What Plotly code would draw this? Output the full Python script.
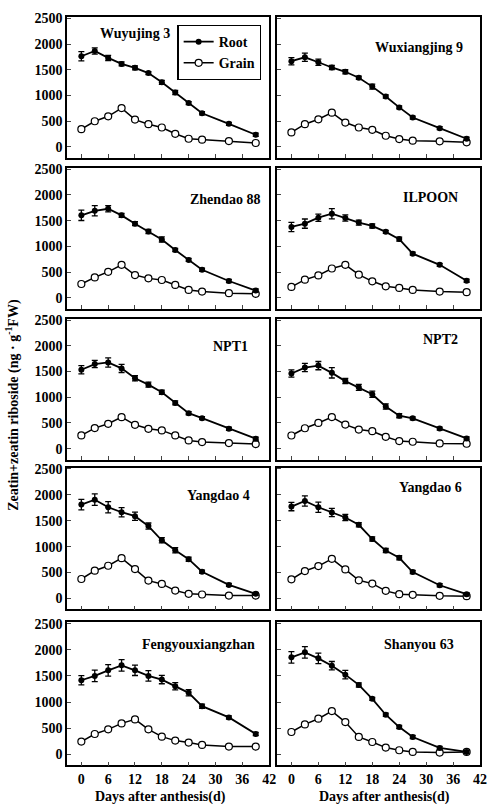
import plotly.graph_objects as go

days = [0, 3, 6, 9, 12, 15, 18, 21, 24, 27, 33, 39]

cultivars = ["Wuyujing 3", "Wuxiangjing 9", "Zhendao 88", "ILPOON", "NPT1",
             "NPT2", "Yangdao 4", "Yangdao 6", "Fengyouxiangzhan", "Shanyou 63"]

root_wuyujing3 = [1763, 1865, 1731, 1615, 1538, 1436, 1256, 1058, 853, 654, 449, 237]
grain_wuyujing3 = [346, 500, 596, 756, 532, 442, 378, 256, 160, 141, 115, 77]
root_wuxiangjing9 = [1667, 1743, 1647, 1545, 1461, 1346, 1173, 981, 769, 571, 365, 160]
grain_wuxiangjing9 = [282, 442, 538, 667, 474, 378, 333, 218, 154, 122, 109, 90]
root_zhendao88 = [1603, 1692, 1731, 1603, 1442, 1288, 1135, 929, 737, 545, 327, 141]
grain_zhendao88 = [269, 397, 506, 641, 442, 378, 346, 250, 154, 122, 90, 77]
root_ilpoon = [1378, 1442, 1558, 1635, 1551, 1462, 1397, 1282, 1141, 859, 641, 333]
grain_ilpoon = [212, 353, 436, 570, 641, 449, 321, 224, 192, 154, 122, 109]
root_npt1 = [1535, 1645, 1677, 1561, 1368, 1245, 1097, 890, 690, 594, 387, 194]
grain_npt1 = [258, 400, 484, 613, 464, 387, 355, 258, 161, 129, 110, 90]
root_npt2 = [1462, 1577, 1615, 1474, 1314, 1192, 1058, 820, 641, 590, 391, 199]
grain_npt2 = [256, 397, 500, 615, 468, 372, 340, 231, 147, 135, 103, 96]
root_yangdao4 = [1812, 1908, 1761, 1665, 1589, 1397, 1123, 931, 759, 517, 262, 89]
grain_yangdao4 = [376, 536, 632, 778, 568, 345, 281, 153, 89, 77, 57, 57]
root_yangdao6 = [1774, 1882, 1761, 1659, 1563, 1423, 1148, 925, 785, 510, 255, 83]
grain_yangdao6 = [370, 530, 625, 766, 561, 351, 287, 147, 83, 70, 51, 45]
root_feng = [1418, 1501, 1609, 1704, 1609, 1501, 1431, 1304, 1177, 922, 706, 388]
grain_feng = [242, 388, 477, 591, 668, 477, 337, 261, 223, 178, 146, 146]
root_shanyou63 = [1857, 1953, 1838, 1698, 1526, 1329, 1062, 757, 521, 331, 121, 45]
grain_shanyou63 = [426, 572, 681, 827, 617, 331, 235, 127, 76, 45, 32, 45]

err_wuyujing3 = [90, 60, 50, 40, 40, 30, 40, 40, 30, 30, 30, 30]
err_wuxiangjing9 = [70, 80, 60, 40, 40, 30, 50, 30, 30, 30, 30, 30]
err_zhendao88 = [100, 100, 60, 40, 40, 40, 50, 30, 30, 30, 30, 30]
err_ilpoon = [90, 90, 70, 100, 60, 50, 40, 30, 40, 30, 30, 30]
err_npt1 = [80, 70, 90, 80, 50, 50, 40, 40, 30, 30, 30, 30]
err_npt2 = [70, 80, 80, 100, 50, 60, 60, 50, 40, 30, 30, 30]
err_yangdao4 = [100, 110, 110, 90, 80, 60, 50, 50, 40, 30, 30, 30]
err_yangdao6 = [80, 100, 100, 80, 60, 40, 40, 40, 40, 30, 30, 30]
err_feng = [90, 110, 110, 110, 100, 100, 80, 70, 60, 40, 30, 30]
err_shanyou63 = [110, 110, 100, 80, 80, 40, 30, 30, 30, 30, 30, 30]
grain_err = [20] * 12

roots = [root_wuyujing3, root_wuxiangjing9, root_zhendao88, root_ilpoon, root_npt1,
         root_npt2, root_yangdao4, root_yangdao6, root_feng, root_shanyou63]
grains = [grain_wuyujing3, grain_wuxiangjing9, grain_zhendao88, grain_ilpoon, grain_npt1,
          grain_npt2, grain_yangdao4, grain_yangdao6, grain_feng, grain_shanyou63]
root_errs = [err_wuyujing3, err_wuxiangjing9, err_zhendao88, err_ilpoon, err_npt1,
             err_npt2, err_yangdao4, err_yangdao6, err_feng, err_shanyou63]

y_ticks = [0, 500, 1000, 1500, 2000, 2500]
x_ticks = [0, 6, 12, 18, 24, 30, 36, 42]

W, H = 495, 804
FONT = "Liberation Serif"


def fx(p):
    return p / W


def fy(p):
    return 1 - p / H


cols = [(68, 273), (281, 487)]
rows = [(11, 153), (163, 305), (315, 457), (465, 608), (621, 765)]

# title positions (pixel centre)
title_pos = [(137, 28), (425, 42), (228, 195), (437, 193), (234, 343),
             (447, 336), (222, 493), (437, 485), (201, 643), (425, 643)]

fig = go.Figure()
layout = {}
annotations = []

for i, name in enumerate(cultivars):
    r, c = divmod(i, 2)
    idx = i + 1
    xa = "x" if idx == 1 else f"x{idx}"
    ya = "y" if idx == 1 else f"y{idx}"
    xkey = "xaxis" if idx == 1 else f"xaxis{idx}"
    ykey = "yaxis" if idx == 1 else f"yaxis{idx}"

    fig.add_trace(go.Scatter(
        x=days, y=grains[i], xaxis=xa, yaxis=ya, mode="lines+markers",
        name="Grain", showlegend=False,
        line=dict(color="black", width=1.5),
        marker=dict(symbol="circle", size=7, color="white",
                    line=dict(color="black", width=1.2)),
        error_y=dict(type="data", array=grain_err, color="black", thickness=1, width=2),
    ))
    fig.add_trace(go.Scatter(
        x=days, y=roots[i], xaxis=xa, yaxis=ya, mode="lines+markers",
        name="Root", showlegend=(i == 0),
        line=dict(color="black", width=1.8),
        marker=dict(symbol="circle", size=6, color="black"),
        error_y=dict(type="data", array=root_errs[i], color="black", thickness=1.3, width=3),
    ))
    if i == 0:
        fig.add_trace(go.Scatter(
            x=[0], y=[-1000], xaxis=xa, yaxis=ya, mode="lines+markers",
            name="Grain", showlegend=True, hoverinfo="skip",
            line=dict(color="black", width=1.5),
            marker=dict(symbol="circle", size=7, color="white",
                        line=dict(color="black", width=1.2)),
        ))

    x0, x1 = cols[c]
    t, b = rows[r]
    layout[xkey] = dict(
        domain=[fx(x0), fx(x1)], anchor=ya, range=[-3.2, 42],
        tickvals=x_ticks, ticks="inside", ticklen=4, tickwidth=1.3,
        showticklabels=(r == 4), showline=True, linecolor="black", linewidth=1.5,
        mirror=True, showgrid=False, zeroline=False,
        tickfont=dict(family=FONT, size=14, color="black", weight="bold"),
    )
    layout[ykey] = dict(
        domain=[fy(b), fy(t)], anchor=xa, range=[-212, 2528],
        tickvals=y_ticks, ticks="inside", ticklen=4, tickwidth=1.3,
        showticklabels=(c == 0), showline=True, linecolor="black", linewidth=1.5,
        mirror=True, showgrid=False, zeroline=False,
        tickfont=dict(family=FONT, size=14, color="black", weight="bold"),
    )
    tx, ty = title_pos[i]
    annotations.append(dict(
        text=name, x=fx(tx), y=fy(ty), xref="paper", yref="paper",
        xanchor="center", yanchor="middle", showarrow=False,
        font=dict(family=FONT, size=14, color="black", weight="bold"),
    ))

annotations.append(dict(
    text="Zeatin+zeatin riboside (ng · g<sup>-1</sup>FW)", x=fx(12), y=fy(402),
    xref="paper", yref="paper", textangle=-90, showarrow=False,
    xanchor="center", yanchor="middle",
    font=dict(family=FONT, size=14, color="black", weight="bold"),
))
for cx in (163, 390):
    annotations.append(dict(
        text="Days after anthesis(d)", x=fx(cx), y=fy(797),
        xref="paper", yref="paper", showarrow=False,
        xanchor="center", yanchor="middle",
        font=dict(family=FONT, size=14, color="black", weight="bold"),
    ))

fig.update_layout(
    width=W, height=H, margin=dict(l=0, r=0, t=0, b=0),
    paper_bgcolor="white", plot_bgcolor="white",
    font=dict(family=FONT, size=14, color="black"),
    annotations=annotations,
    legend=dict(x=fx(180), y=fy(19), xanchor="left", yanchor="top",
                bordercolor="black", borderwidth=1.2, bgcolor="white",
                font=dict(family=FONT, size=14, color="black", weight="bold"),
                tracegroupgap=0, itemwidth=30),
    **layout,
)

fig.write_html(
    "out.html",
    config={"displayModeBar": False},
    post_script="document.body.style.margin='0';document.body.style.overflow='hidden';",
)
